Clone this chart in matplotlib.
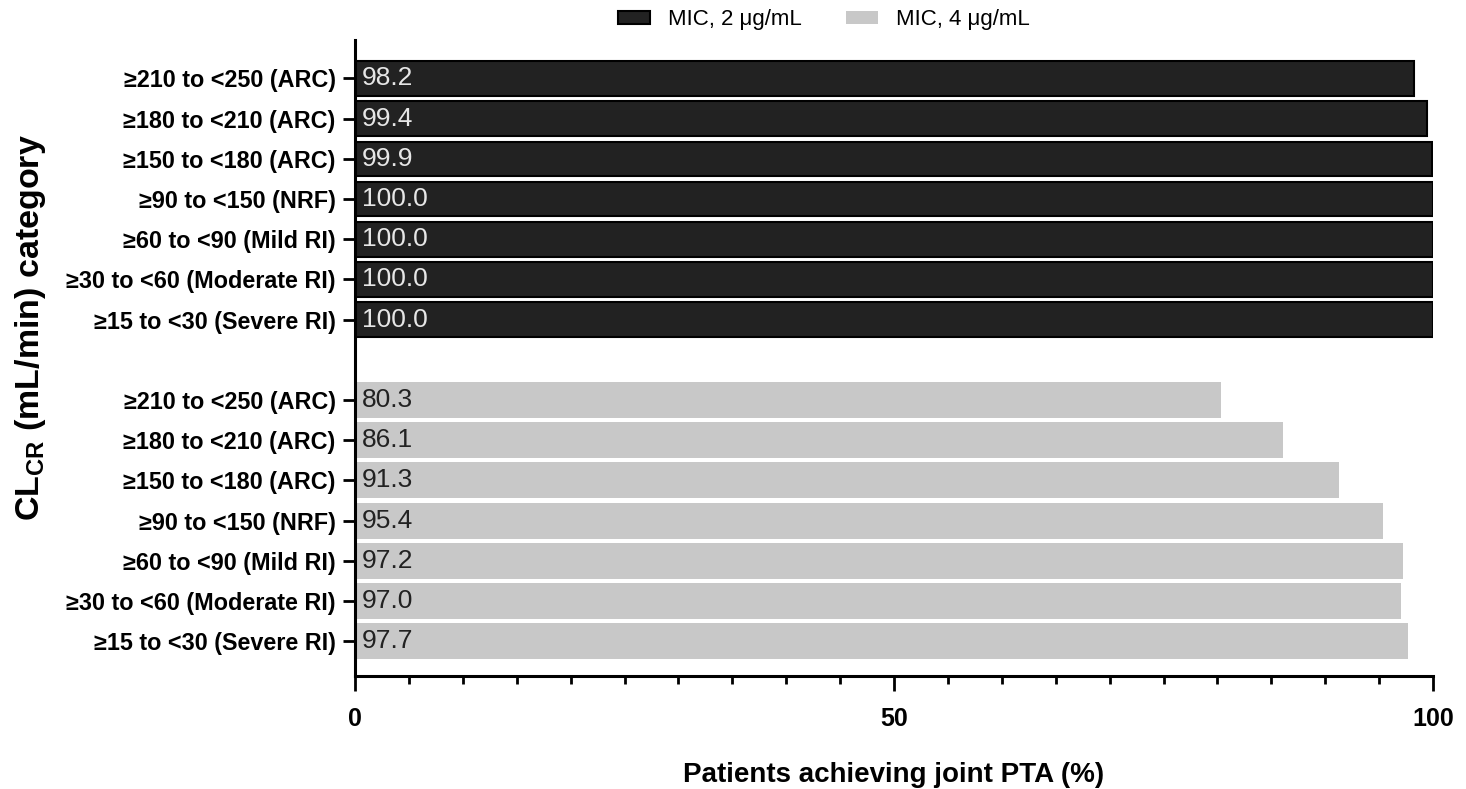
import matplotlib
matplotlib.use("Agg")
import matplotlib.pyplot as plt
from matplotlib.ticker import MultipleLocator
import numpy as np

plt.rcParams['font.family'] = ['Liberation Sans', 'DejaVu Sans']
plt.rcParams['mathtext.fontset'] = 'custom'
plt.rcParams['mathtext.rm'] = 'Liberation Sans:bold'

categories = ["≥210 to <250 (ARC)", "≥180 to <210 (ARC)", "≥150 to <180 (ARC)",
              "≥90 to <150 (NRF)", "≥60 to <90 (Mild RI)", "≥30 to <60 (Moderate RI)",
              "≥15 to <30 (Severe RI)"]
mic2 = [98.2, 99.4, 99.9, 100.0, 100.0, 100.0, 100.0]
mic4 = [80.3, 86.1, 91.3, 95.4, 97.2, 97.0, 97.7]

n = len(categories)
pos2 = np.arange(n)
pos4 = np.arange(n) + n + 1

fig = plt.figure(figsize=(14.66, 7.89), dpi=100)
ax = fig.add_axes([0.2422, 0.143, 0.7353, 0.806])

b2 = ax.barh(pos2, mic2, height=0.86, color='#222222', edgecolor='black',
             linewidth=1.5, label='MIC, 2 μg/mL')
b4 = ax.barh(pos4, mic4, height=0.9, color='#c8c8c8', edgecolor='none',
             label='MIC, 4 μg/mL')

for p, v in zip(pos2, mic2):
    ax.annotate(f"{v:.1f}", (0, p), xytext=(5, 0), textcoords='offset points',
                ha='left', va='center', fontsize=19, color='#e6e6e6')
for p, v in zip(pos4, mic4):
    ax.annotate(f"{v:.1f}", (0, p), xytext=(5, 0), textcoords='offset points',
                ha='left', va='center', fontsize=19, color='#222222')

ax.set_xlim(0, 100)
ax.set_ylim(n * 2 + 0.87, -0.95)
ax.set_yticks(np.concatenate([pos2, pos4]))
ax.set_yticklabels(categories + categories, fontsize=16.8, fontweight='bold')

ax.xaxis.set_major_locator(MultipleLocator(50))
ax.xaxis.set_minor_locator(MultipleLocator(5))
for lbl in ax.get_xticklabels():
    lbl.set_fontweight('bold')
ax.tick_params(axis='x', which='major', length=11, width=2, labelsize=18, pad=11)
ax.tick_params(axis='x', which='minor', length=6, width=2)
ax.tick_params(axis='y', which='major', length=9, width=2, pad=5)

for s in ['top', 'right']:
    ax.spines[s].set_visible(False)
for s in ['left', 'bottom']:
    ax.spines[s].set_linewidth(2.2)

ax.set_xlabel('Patients achieving joint PTA (%)', fontsize=20, fontweight='bold')
ax.xaxis.set_label_coords(0.5, -0.135)
fig.text(0.021, 0.585, r'CL$_{\rm CR}$ (mL/min) category', rotation=90,
         ha='center', va='center', fontsize=24.5, fontweight='bold')

fig.legend(handles=[b2, b4], loc='center', bbox_to_anchor=(0.562, 0.975), ncol=2,
           frameon=False, fontsize=16, handlelength=1.45, handleheight=0.5,
           columnspacing=2.0, handletextpad=0.8)

fig.savefig('out.png', dpi=100)
